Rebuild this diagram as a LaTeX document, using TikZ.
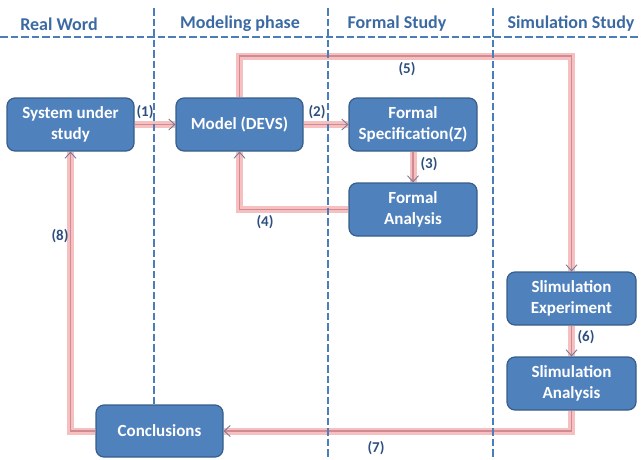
\documentclass[tikz,border=0pt]{standalone}
\usepackage{fontspec}
\setmainfont{Carlito}
\usetikzlibrary{arrows.meta}

\definecolor{boxblue}{HTML}{4F81BD}
\definecolor{boxedge}{HTML}{385D8A}
\definecolor{headblue}{HTML}{3B6AA3}
\definecolor{numblue}{HTML}{2E4F7E}
\definecolor{laneblue}{HTML}{4A7EBB}
\definecolor{flowglow}{HTML}{F6C0C0}
\definecolor{flowcore}{HTML}{D08A92}
\definecolor{tipgray}{HTML}{767B98}

\pgfdeclarelayer{back}
\pgfdeclarelayer{mid}
\pgfsetlayers{back,mid,main}

\begin{document}
\begin{tikzpicture}[x=1pt, y=-1pt,
    box/.style={draw=boxedge, fill=boxblue, line width=1.2pt, rounded corners=8pt,
        text=white, align=center, font=\fontsize{17}{20.5}\selectfont\bfseries,
        minimum width=127pt, minimum height=53pt, inner sep=1pt},
    phase/.style={text=headblue, font=\fontsize{18}{21}\selectfont\bfseries},
    num/.style={text=numblue, font=\fontsize{15}{17}\selectfont\bfseries, inner sep=1pt},
    lane/.style={draw=laneblue, line width=2.8pt, dash pattern=on 7.5pt off 3pt},
    flow/.style={draw=flowcore, line width=1.1pt,
        preaction={draw=flowglow, line width=7pt, arrows=-},
        -{Straight Barb[color=tipgray, length=6pt, width=11pt, line width=0.9pt]}}]

    \useasboundingbox (0,0) rectangle (641,459);

    % phases
    \node[phase] (h_real) at (59,24) {Real Word};
    \node[phase] (h_model) at (240,24) {Modeling phase};
    \node[phase] (h_formal) at (397,24) {Formal Study};
    \node[phase] (h_sim) at (571,24) {Simulation Study};

    % boxes
    \node[box] (sys) at (70.5,124.5) {System under\\study};
    \node[box] (model) at (239.5,124.5) {Model (DEVS)};
    \node[box, minimum width=128pt] (spec) at (413,124.5) {Formal\\Specification(Z)};
    \node[box, minimum width=128pt] (fana) at (413,209.5) {Formal\\Analysis};
    \node[box, minimum width=129pt] (sexp) at (571.5,298.5) {Slimulation\\Experiment};
    \node[box, minimum width=129pt] (sana) at (571.5,383.5) {Slimulation\\Analysis};
    \node[box, minimum height=52pt] (concl) at (159.5,431) {Conclusions};

    \coordinate (top5) at (0,56);

    % flows
    \begin{pgfonlayer}{back}
        \draw[flow] (sys.east) -- (model.west);
        \draw[flow] (model.east) -- (spec.west);
        \draw[flow] (spec.south) -- (fana.north);
        \draw[flow] (fana.west) -| (model.south);
        \draw[flow] (model.north) -- (model.north |- top5) -| (sexp.north);
        \draw[flow] (sexp.south) -- (sana.north);
        \draw[flow] (sana.south) |- (concl.east);
        \draw[flow] (concl.west) -| (sys.south);
    \end{pgfonlayer}

    % lanes
    \begin{pgfonlayer}{mid}
        \draw[lane] (0,37) -- (641,37);
        \foreach \x in {154,328,493}
            \draw[lane] (\x,8) -- (\x,459);
    \end{pgfonlayer}

    % step numbers
    \node[num] (n1) at (145,112) {(1)};
    \node[num] (n2) at (317,112) {(2)};
    \node[num] (n3) at (429,164) {(3)};
    \node[num] (n4) at (265,222) {(4)};
    \node[num] (n5) at (407,69) {(5)};
    \node[num] (n6) at (586,337) {(6)};
    \node[num] (n7) at (376,448) {(7)};
    \node[num] (n8) at (60,236) {(8)};

\end{tikzpicture}
\end{document}
